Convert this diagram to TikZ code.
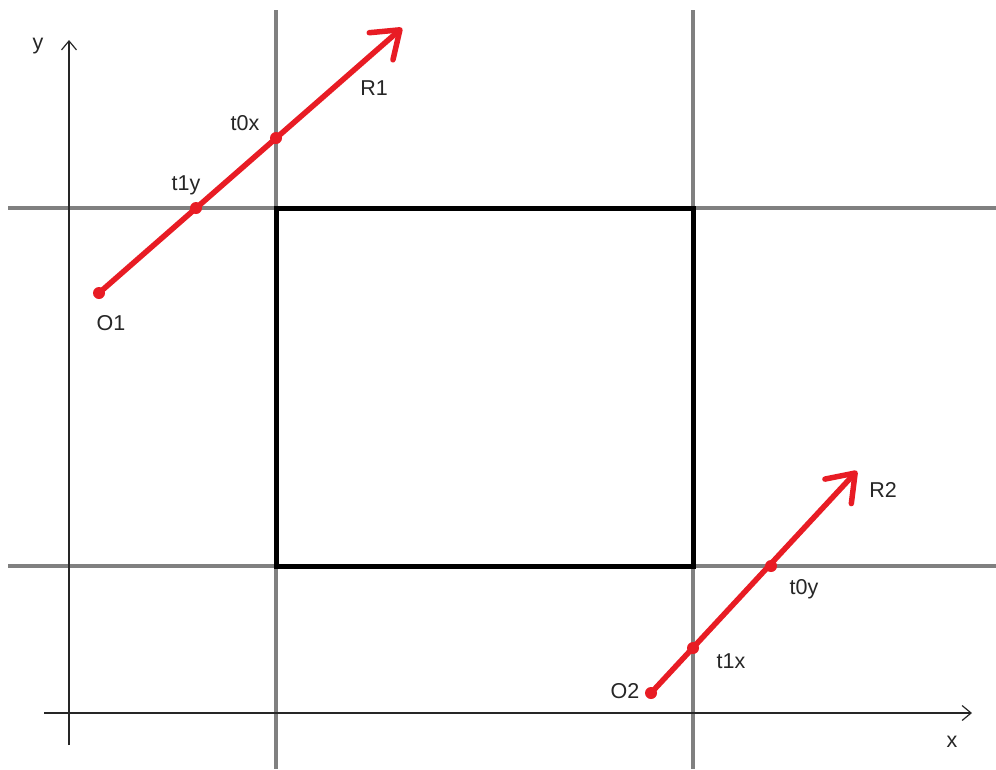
\documentclass[tikz,border=0pt]{standalone}
\usepackage{fontspec}
\setmainfont{Liberation Sans}
\usetikzlibrary{arrows.meta}
\definecolor{rayred}{RGB}{232,28,36}
\definecolor{gridgray}{RGB}{128,128,128}
\tikzset{
  gridline/.style={draw=gridgray,line width=4.5pt},
  boxline/.style={draw=black,line width=5pt},
  axisline/.style={draw=black!85,line width=1.3pt,-{Straight Barb[length=9pt,width=15pt,line width=1.2pt]}},
  ray/.style={draw=rayred,line width=5.5pt,line cap=round,-{Straight Barb[length=25pt,width=36pt,line width=5.5pt,round]}},
  dot/.style={circle,fill=rayred,inner sep=0pt,minimum size=12pt},
  lbl/.style={font=\fontsize{21.5}{25}\selectfont,text=black!85,inner sep=0pt}
}
\begin{document}
\begin{tikzpicture}[x=1pt,y=-1pt]
\useasboundingbox[fill=white] (0,0) rectangle (996,769);
% grid lines
\draw[gridline] (276,10) -- (276,769);
\draw[gridline] (693,10) -- (693,769);
\draw[gridline] (8,208) -- (996,208);
\draw[gridline] (8,566) -- (996,566);
% box
\draw[boxline] (276,208) rectangle (693,566);
% axes
\coordinate (yb) at (69,745);
\coordinate (yt) at (69,40);
\coordinate (xl) at (44,713);
\coordinate (xr) at (972,713);
\draw[axisline] (yb) -- (yt);
\draw[axisline] (xl) -- (xr);
\node[lbl] (ylab) at (38,46) {y};
\node[lbl] (xlab) at (952,742) {x};
% ray 1
\node[dot] (O1) at (99,293) {};
\node[dot] (T1y) at (196,208) {};
\node[dot] (T0x) at (276,138) {};
\coordinate (R1tip) at (402,28);
\draw[ray] (O1.center) -- (R1tip);
\node[lbl] (lO1) at (111,323) {O1};
\node[lbl] (lt1y) at (186,185) {t1y};
\node[lbl] (lt0x) at (245,123) {t0x};
\node[lbl] (lR1) at (374,88) {R1};
% ray 2
\node[dot] (O2) at (651,693) {};
\node[dot] (T1x) at (693,648) {};
\node[dot] (T0y) at (771,566) {};
\coordinate (R2tip) at (857,471);
\draw[ray] (O2.center) -- (R2tip);
\node[lbl] (lO2) at (625,691) {O2};
\node[lbl] (lt1x) at (731,661) {t1x};
\node[lbl] (lt0y) at (804,589) {t0y};
\node[lbl] (lR2) at (883,490) {R2};
\end{tikzpicture}
\end{document}
